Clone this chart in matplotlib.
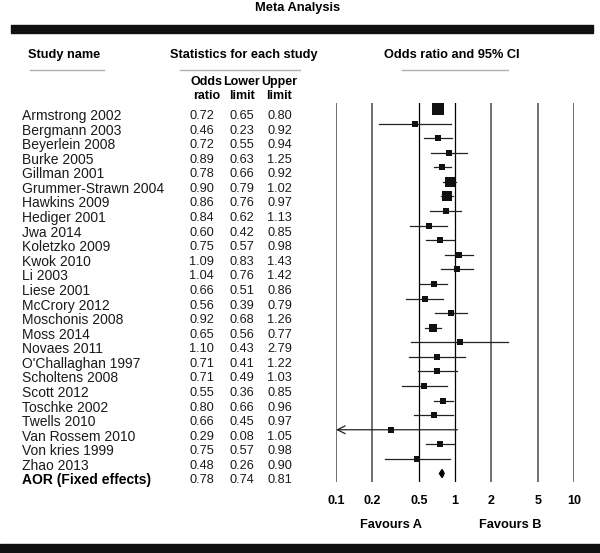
import matplotlib
matplotlib.use('Agg')
import matplotlib.pyplot as plt
from matplotlib.patches import Rectangle, Polygon
from matplotlib.lines import Line2D
from matplotlib.transforms import blended_transform_factory
import numpy as np

plt.rcParams['font.family'] = ['Liberation Sans', 'DejaVu Sans']

# data
studies = ['Armstrong 2002', 'Bergmann 2003', 'Beyerlein 2008', 'Burke 2005',
           'Gillman 2001', 'Grummer-Strawn 2004', 'Hawkins 2009', 'Hediger 2001',
           'Jwa 2014', 'Koletzko 2009', 'Kwok 2010', 'Li 2003', 'Liese 2001',
           'McCrory 2012', 'Moschonis 2008', 'Moss 2014', 'Novaes 2011',
           "O'Challaghan 1997", 'Scholtens 2008', 'Scott 2012', 'Toschke 2002',
           'Twells 2010', 'Van Rossem 2010', 'Von kries 1999', 'Zhao 2013']
odds = [0.72, 0.46, 0.72, 0.89, 0.78, 0.90, 0.86, 0.84, 0.60, 0.75, 1.09, 1.04, 0.66,
        0.56, 0.92, 0.65, 1.10, 0.71, 0.71, 0.55, 0.80, 0.66, 0.29, 0.75, 0.48]
lower = [0.65, 0.23, 0.55, 0.63, 0.66, 0.79, 0.76, 0.62, 0.42, 0.57, 0.83, 0.76, 0.51,
         0.39, 0.68, 0.56, 0.43, 0.41, 0.49, 0.36, 0.66, 0.45, 0.08, 0.57, 0.26]
upper = [0.80, 0.92, 0.94, 1.25, 0.92, 1.02, 0.97, 1.13, 0.85, 0.98, 1.43, 1.42, 0.86,
         0.79, 1.26, 0.77, 2.79, 1.22, 1.03, 0.85, 0.96, 0.97, 1.05, 0.98, 0.90]
summary_label = 'AOR (Fixed effects)'
summary = (0.78, 0.74, 0.81)
ticks = [0.1, 0.2, 0.5, 1, 2, 5, 10]
tick_labels = ['0.1', '0.2', '0.5', '1', '2', '5', '10']

W, H = 600, 553


def fx(x):
    return x / W


def fy(y):
    return 1 - y / H


fig = plt.figure(figsize=(W / 100, H / 100), dpi=100)
fig.patch.set_facecolor('white')

# forest plot area
top_px, bot_px = 103, 482
ax = fig.add_axes([fx(336), fy(bot_px), 238 / W, (bot_px - top_px) / H])
ax.set_xscale('log')
ax.set_xlim(0.1, 10)
row_h = 14.58
ax.set_ylim((bot_px - 109) / row_h, (top_px - 109) / row_h)
for s in ax.spines.values():
    s.set_visible(False)
ax.set_yticks([])
ax.set_xticks(ticks)
ax.set_xticklabels(tick_labels, fontsize=9, fontweight='bold')
ax.xaxis.set_minor_locator(matplotlib.ticker.NullLocator())
ax.tick_params(axis='x', length=0, pad=9)
ax.patch.set_alpha(0)

for t in ticks:
    if t in (0.5, 1):
        ax.axvline(t, color='black', lw=0.9, zorder=1)
    else:
        ax.axvline(t, color='#707070', lw=1.4, zorder=1)

# marker size from the CI width (inverse-variance style weight)
log_w = np.log(np.array(upper)) - np.log(np.array(lower))
side = np.clip(2.3 / log_w, 5.2, None)

rows = np.arange(len(studies))
for i in rows:
    lo, hi = lower[i], upper[i]
    if lo < 0.1:
        ax.annotate('', xy=(0.1, i), xytext=(hi, i),
                    arrowprops=dict(arrowstyle='->', lw=0.9, color='#222222',
                                    shrinkA=0, shrinkB=0, mutation_scale=14))
    else:
        ax.plot([lo, hi], [i, i], color='#222222', lw=0.9, zorder=2)
    ax.plot(odds[i], i, marker='s', color='#111111', markersize=side[i] * 0.72,
            markeredgewidth=0, zorder=3)

# summary diamond
s_row = len(studies)
so, sl, su = summary
ax.add_patch(Polygon([(sl, s_row), (so, s_row - 0.28), (su, s_row), (so, s_row + 0.28)],
                     closed=True, color='black', zorder=3))

# table text
tr = blended_transform_factory(fig.transFigure, ax.transData)
txt_off = 0.48
for i in rows:
    y = i + txt_off
    fig.text(fx(22), y, studies[i], transform=tr, fontsize=10, va='center', ha='left',
             color='#1a1a1a')
    for xr, v in zip((214, 254, 292), (odds[i], lower[i], upper[i])):
        fig.text(fx(xr), y, f'{v:.2f}', transform=tr, fontsize=9.2, va='center', ha='right',
                 color='#1a1a1a')
y = s_row + txt_off
fig.text(fx(22), y, summary_label, transform=tr, fontsize=10, fontweight='bold', va='center')
for xr, v in zip((214, 254, 292), summary):
    fig.text(fx(xr), y, f'{v:.2f}', transform=tr, fontsize=9.2, va='center', ha='right',
             color='#1a1a1a')

# headers
fig.text(fx(298), fy(8), 'Meta Analysis', fontsize=9.3, fontweight='bold', ha='center', va='center')
fig.text(fx(64), fy(55), 'Study name', fontsize=9.2, fontweight='bold', ha='center', va='center')
fig.text(fx(244), fy(55), 'Statistics for each study', fontsize=9.2, fontweight='bold',
         ha='center', va='center')
fig.text(fx(452), fy(55), 'Odds ratio and 95% CI', fontsize=9.2, fontweight='bold',
         ha='center', va='center')
for xc, (a, b) in zip((207, 242, 279), [('Odds', 'ratio'), ('Lower', 'limit'), ('Upper', 'limit')]):
    fig.text(fx(xc), fy(82), a, fontsize=9, fontweight='bold', ha='center', va='center')
    fig.text(fx(xc), fy(96), b, fontsize=9, fontweight='bold', ha='center', va='center')

for x0, x1 in [(30, 104), (180, 300), (402, 508)]:
    fig.add_artist(Line2D([fx(x0), fx(x1)], [fy(69.5), fy(69.5)], color='#b0b0b0', lw=1))

fig.text(fx(391), fy(525), 'Favours A', fontsize=9.2, fontweight='bold', ha='center', va='center')
fig.text(fx(510), fy(525), 'Favours B', fontsize=9.2, fontweight='bold', ha='center', va='center')

# black bands
fig.add_artist(Rectangle((fx(11), fy(33)), fx(593) - fx(11), 8 / H, color='#111111'))
fig.add_artist(Rectangle((0, 0), 1, 9 / H, color='#111111'))

fig.savefig('out.png', dpi=100)
